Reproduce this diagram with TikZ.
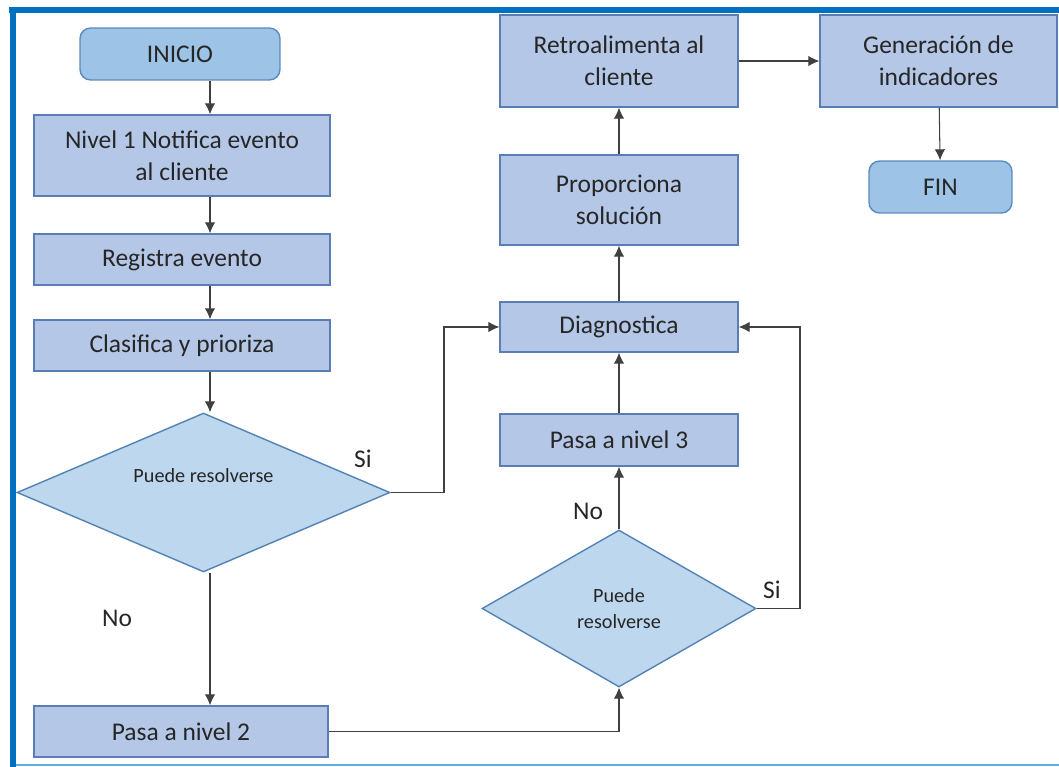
\documentclass[tikz,border=0pt]{standalone}
\usepackage{fontspec}
\setmainfont{Carlito}
\usetikzlibrary{arrows.meta,positioning,shapes.geometric}
\definecolor{boxfill}{HTML}{B4C7E7}
\definecolor{boxline}{HTML}{5B7DB5}
\definecolor{dfill}{HTML}{BDD7EE}
\definecolor{dline}{HTML}{5383B5}
\definecolor{tfill}{HTML}{9DC3E6}
\definecolor{tline}{HTML}{5A8AC0}
\definecolor{frameblue}{HTML}{0070C0}
\definecolor{framelight}{HTML}{5BB0E0}
\tikzset{%
	process/.style  = {draw=boxline, fill=boxfill, rectangle, line width=0.8pt, minimum width=5.92cm, minimum height=1.02cm, align=center, text=black!85, font=\fontsize{14.5}{18}\selectfont},
	terminal/.style = {process, draw=tline, fill=tfill, rounded corners=6pt},
	decision/.style = {draw=dline, fill=dfill, diamond, line width=0.8pt, inner sep=0pt, align=center, text=black!85, font=\fontsize{11.5}{14.7}\selectfont},
	lbl/.style      = {text=black!85, font=\fontsize{14.5}{18}\selectfont},
	arrow/.style    = {draw=black!75, line width=0.6pt, -{Latex[length=2.2mm,width=2.1mm]}},
}

\begin{document}
\begin{tikzpicture}[x=0.02cm, y=-0.02cm]
	\useasboundingbox (0,0) rectangle (1059,767);
	% frame
	\draw[frameblue, line width=3.6pt] (9,10) -- (1059,10);
	\draw[frameblue, line width=3.8pt] (13,7) -- (13,767);
	\draw[framelight, line width=0.8pt] (16,765) -- (1059,765);
	% level 1 column
	\node[terminal, minimum width=4cm, minimum height=1.04cm] (ini) at (180,54) {INICIO};
	\node[process, minimum height=1.62cm] (n1) at (182,155.5) {Nivel 1 Notifica evento\\al cliente};
	\node[process] (reg) at (182,259.5) {Registra evento};
	\node[process] (clas) at (182,345.5) {Clasifica y prioriza};
	\node[decision, minimum width=7.46cm, minimum height=3.18cm,
		label={[font=\fontsize{11.5}{14}\selectfont, text=black!85, yshift=0.34cm]center:Puede resolverse}] (d1) at (203.5,492.5) {};
	\node[process, minimum width=5.88cm] (p2) at (181,731.5) {Pasa a nivel 2};
	% level 2 and 3 column
	\node[decision, minimum width=5.48cm, minimum height=3.14cm] (d2) at (619,608.5) {Puede\\resolverse};
	\node[process, minimum width=4.76cm, minimum height=1.04cm] (p3) at (619,440) {Pasa a nivel 3};
	\node[process, minimum width=4.76cm, minimum height=1.0cm] (diag) at (619,327) {Diagnostica};
	\node[process, minimum width=4.76cm, minimum height=1.8cm] (prop) at (619,200) {Proporciona\\solución};
	\node[process, minimum width=4.76cm, minimum height=1.84cm] (retro) at (619,61) {Retroalimenta al\\cliente};
	\node[process, minimum width=4.74cm, minimum height=1.84cm] (gen) at (938.5,61) {Generación de\\indicadores};
	\node[terminal, minimum width=2.86cm, minimum height=1.04cm] (fin) at (940.5,187) {FIN};
	% bends
	\coordinate (ax) at (210,0);
	\coordinate (j1) at (444,0);
	\coordinate (j2) at (800,0);
	% connectors
	\draw[arrow] (ini.south -| ax) -- (n1.north -| ax);
	\draw[arrow] (n1.south -| ax) -- (reg.north -| ax);
	\draw[arrow] (reg.south -| ax) -- (clas.north -| ax);
	\draw[arrow] (clas.south -| ax) -- (d1.north -| ax);
	\draw[arrow] (d1.south -| ax) -- (p2.north -| ax);
	\draw[arrow] (d1.east) -- (d1.east -| j1) |- (diag.west);
	\draw[arrow] (p2.east) -| (d2.south);
	\draw[arrow] (d2.north) -- (p3.south);
	\draw[arrow] (d2.east) -- (d2.east -| j2) |- (diag.east);
	\draw[arrow] (p3.north) -- (diag.south);
	\draw[arrow] (diag.north) -- (prop.south);
	\draw[arrow] (prop.north) -- (retro.south);
	\draw[arrow] (retro.east) -- (gen.west);
	\draw[arrow] (gen) -- (fin);
	% labels
	\node[lbl] (si1) at (363,459) {Si};
	\node[lbl] (no1) at (117,618) {No};
	\node[lbl] (no2) at (588,511) {No};
	\node[lbl] (si2) at (772,590) {Si};
\end{tikzpicture}
\end{document}
